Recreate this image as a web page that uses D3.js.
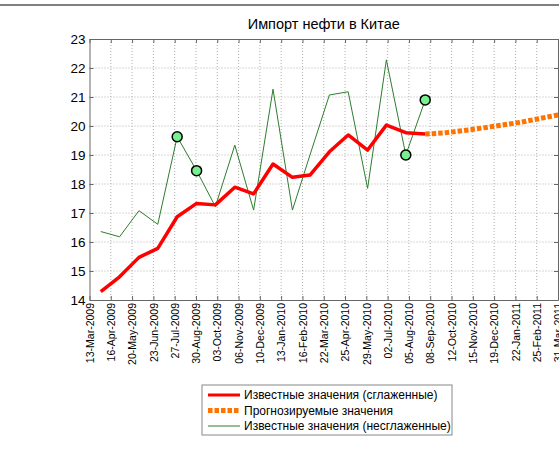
<!DOCTYPE html>
<html lang="ru">
<head>
    <meta charset="UTF-8">
    <title>Импорт нефти в Китае</title>
    <script src="https://cdnjs.cloudflare.com/ajax/libs/d3/7.8.5/d3.min.js"></script>
    <style>
        body { margin: 0; background: #fff; }
        svg { display: block; font-family: "Liberation Sans", Arial, sans-serif; }
        .grid line { stroke: #b0b0b0; stroke-width: 1; stroke-dasharray: 1,2; }
        .axis path, .axis line { stroke: #666; }
        .axis text { fill: #000; }
    </style>
</head>
<body>
    <div id="chart"></div>

    <script>
        // Known monthly values (end of month)
        const knownDates = [
            "2009-03-31", "2009-04-30", "2009-05-31", "2009-06-30", "2009-07-31", "2009-08-31",
            "2009-09-30", "2009-10-31", "2009-11-30", "2009-12-31", "2010-01-31", "2010-02-28",
            "2010-03-31", "2010-04-30", "2010-05-31", "2010-06-30", "2010-07-31", "2010-08-31"
        ];
        const smoothed = [14.29, 14.80, 15.47, 15.78, 16.87, 17.33, 17.28, 17.89, 17.66, 18.69, 18.23, 18.31,
                          19.11, 19.69, 19.17, 20.03, 19.77, 19.72];
        const raw = [16.36, 16.18, 17.08, 16.61, 19.63, 18.46, 17.22, 19.34, 17.10, 21.27, 17.10, 19.00,
                     21.07, 21.18, 17.85, 22.28, 19.00, 20.90];
        const markedIdx = [4, 5, 16, 17];

        // Forecast
        const forecastDates = ["2010-08-31", "2010-09-30", "2010-10-31", "2010-11-30", "2010-12-31",
                               "2011-01-31", "2011-02-28", "2011-03-31", "2011-04-30"];
        const forecast = [19.72, 19.76, 19.84, 19.93, 20.03, 20.13, 20.25, 20.38, 20.52];

        const xTickLabels = [
            "13-Mar-2009", "16-Apr-2009", "20-May-2009", "23-Jun-2009", "27-Jul-2009", "30-Aug-2009",
            "03-Oct-2009", "06-Nov-2009", "10-Dec-2009", "13-Jan-2010", "16-Feb-2010", "22-Mar-2010",
            "25-Apr-2010", "29-May-2010", "02-Jul-2010", "05-Aug-2010", "08-Sep-2010", "12-Oct-2010",
            "15-Nov-2010", "19-Dec-2010", "22-Jan-2011", "25-Feb-2011", "31-Mar-2011"
        ];
        const yTicks = [14, 15, 16, 17, 18, 19, 20, 21, 22, 23];

        const legendLabels = [
            "Известные значения (сглаженные)",
            "Прогнозируемые значения",
            "Известные значения (несглаженные)"
        ];

        const width = 559, height = 464;
        const plot = { left: 89.5, right: 558, top: 39, bottom: 300 };

        const parseIso = d3.timeParse("%Y-%m-%d");
        const parseTick = d3.timeParse("%d-%b-%Y");
        const tickDates = xTickLabels.map(parseTick);

        const x = d3.scaleTime()
            .domain([tickDates[0], tickDates[tickDates.length - 1]])
            .range([plot.left, plot.right]);
        const y = d3.scaleLinear().domain([14, 23]).range([plot.bottom, plot.top]);

        const svg = d3.select("#chart").append("svg")
            .attr("width", width)
            .attr("height", height);

        // thin gray bar across the top
        svg.append("rect").attr("x", 0).attr("y", 4).attr("width", width).attr("height", 2).attr("fill", "#808080");

        // grid
        const grid = svg.append("g").attr("class", "grid");
        grid.selectAll(".gx").data(tickDates.slice(1, -1)).enter().append("line")
            .attr("x1", d => x(d)).attr("x2", d => x(d))
            .attr("y1", plot.top).attr("y2", plot.bottom);
        grid.selectAll(".gy").data(yTicks.slice(1, -1)).enter().append("line")
            .attr("x1", plot.left).attr("x2", plot.right)
            .attr("y1", d => y(d)).attr("y2", d => y(d));

        // axes (ticks pointing inward, box on all sides)
        const fmt = d3.timeFormat("%d-%b-%Y");
        svg.append("g").attr("class", "axis")
            .attr("transform", `translate(0,${plot.bottom})`)
            .call(d3.axisBottom(x).tickValues(tickDates).tickSizeInner(-4).tickSizeOuter(0).tickFormat(fmt))
            .call(g => g.selectAll("text")
                .attr("font-size", 10.5)
                .attr("transform", "rotate(-90)")
                .attr("text-anchor", "end")
                .attr("x", -3)
                .attr("y", 0)
                .attr("dy", "0.35em"));
        svg.append("g").attr("class", "axis")
            .attr("transform", `translate(0,${plot.top})`)
            .call(d3.axisTop(x).tickValues(tickDates).tickSizeInner(-4).tickSizeOuter(0).tickFormat(""));
        svg.append("g").attr("class", "axis")
            .attr("transform", `translate(${plot.left},0)`)
            .call(d3.axisLeft(y).tickValues(yTicks).tickSizeInner(-4).tickSizeOuter(0).tickPadding(4))
            .call(g => g.selectAll("text").attr("font-size", 13.5).attr("x", -4));
        svg.append("g").attr("class", "axis")
            .attr("transform", `translate(${plot.right},0)`)
            .call(d3.axisRight(y).tickValues(yTicks).tickSizeInner(-4).tickSizeOuter(0).tickFormat(""));

        // series
        const known = knownDates.map((d, i) => ({ date: parseIso(d), s: smoothed[i], r: raw[i] }));
        const fc = forecastDates.map((d, i) => ({ date: parseIso(d), v: forecast[i] }));

        svg.append("path").datum(known)
            .attr("fill", "none").attr("stroke", "#2e7d2e").attr("stroke-width", 1)
            .attr("d", d3.line().x(d => x(d.date)).y(d => y(d.r)));

        svg.append("path").datum(known)
            .attr("fill", "none").attr("stroke", "#ff0000").attr("stroke-width", 3.5)
            .attr("stroke-linejoin", "round")
            .attr("d", d3.line().x(d => x(d.date)).y(d => y(d.s)));

        svg.append("path").datum(fc)
            .attr("fill", "none").attr("stroke", "#ff7300").attr("stroke-width", 5)
            .attr("stroke-dasharray", "4.5,2")
            .attr("d", d3.line().x(d => x(d.date)).y(d => y(d.v)));

        svg.selectAll(".marker").data(markedIdx.map(i => known[i])).enter().append("circle")
            .attr("cx", d => x(d.date)).attr("cy", d => y(d.r)).attr("r", 5)
            .attr("fill", "#77f08f").attr("stroke", "#000").attr("stroke-width", 1.5);

        // title
        svg.append("text")
            .attr("x", (plot.left + plot.right) / 2).attr("y", 29)
            .attr("text-anchor", "middle").attr("font-size", 14.5)
            .text("Импорт нефти в Китае");

        // legend
        const lg = svg.append("g").attr("transform", "translate(202,385)");
        lg.append("rect").attr("width", 250).attr("height", 50)
            .attr("fill", "#fff").attr("stroke", "#888").attr("stroke-width", 1);
        const styles = [
            { stroke: "#ff0000", w: 3, dash: null },
            { stroke: "#ff7300", w: 5, dash: "4.5,2" },
            { stroke: "#2e7d2e", w: 1, dash: null }
        ];
        legendLabels.forEach((label, i) => {
            const cy = 10 + i * 15.5;
            lg.append("line").attr("x1", 6).attr("x2", 38).attr("y1", cy).attr("y2", cy)
                .attr("stroke", styles[i].stroke).attr("stroke-width", styles[i].w)
                .attr("stroke-dasharray", styles[i].dash);
            lg.append("text").attr("x", 42).attr("y", cy).attr("dy", "0.35em")
                .attr("font-size", 12).text(label);
        });
    </script>
</body>
</html>
